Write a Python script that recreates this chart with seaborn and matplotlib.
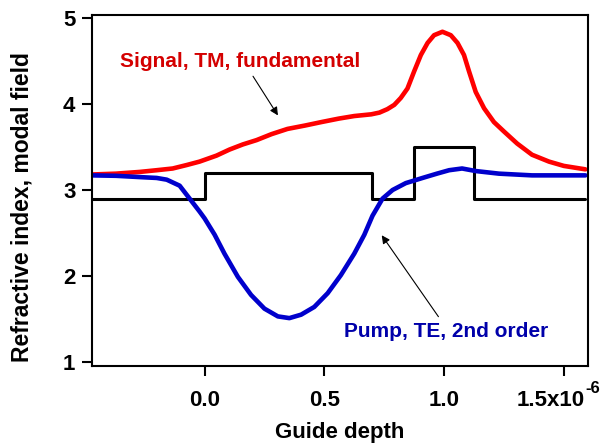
import matplotlib
matplotlib.use("Agg")
import matplotlib.pyplot as plt
import seaborn as sns
import pandas as pd

# depth in micrometres (axis shown as x10^-6 m)
signal_x = [-0.471, -0.37, -0.271, -0.20, -0.133, -0.075, -0.021, 0.05, 0.104, 0.16,
            0.217, 0.28, 0.346, 0.42, 0.488, 0.56, 0.625, 0.696, 0.73, 0.763,
            0.792, 0.819, 0.847, 0.875, 0.903, 0.931, 0.958, 0.993, 1.028, 1.056,
            1.083, 1.104, 1.132, 1.167, 1.208, 1.25, 1.305, 1.367, 1.438, 1.50,
            1.59]
signal_y = [3.18, 3.19, 3.21, 3.23, 3.25, 3.29, 3.33, 3.40, 3.47, 3.53,
            3.58, 3.65, 3.71, 3.75, 3.79, 3.83, 3.86, 3.88, 3.90, 3.94,
            3.99, 4.07, 4.18, 4.38, 4.57, 4.71, 4.80, 4.84, 4.80, 4.71,
            4.57, 4.38, 4.14, 3.95, 3.79, 3.68, 3.54, 3.41, 3.33, 3.28,
            3.24]

pump_x = [-0.471, -0.37, -0.271, -0.20, -0.158, -0.104, -0.0625, -0.021, 0.0, 0.042,
          0.083, 0.139, 0.194, 0.25, 0.306, 0.354, 0.403, 0.458, 0.514, 0.569,
          0.625, 0.667, 0.701, 0.743, 0.785, 0.84, 0.91, 0.97, 1.021, 1.075,
          1.133, 1.229, 1.367, 1.59]
pump_y = [3.17, 3.165, 3.15, 3.14, 3.12, 3.05, 2.90, 2.75, 2.67, 2.48,
          2.26, 1.99, 1.78, 1.62, 1.53, 1.51, 1.55, 1.64, 1.80, 2.01,
          2.26, 2.48, 2.70, 2.90, 3.00, 3.08, 3.14, 3.19, 3.23, 3.25,
          3.22, 3.19, 3.17, 3.17]

# refractive index profile (steps)
index_x = [-0.471, 0.0, 0.70, 0.875, 1.125, 1.59]
index_y = [2.9, 3.2, 2.9, 3.5, 2.9, 2.9]

xtick_pos = [0.0, 0.5, 1.0, 1.5]
xtick_labels = ["0.0", "0.5", "1.0", ""]   # last one drawn by hand with its exponent
last_label = "1.5x10"
last_exp = "-6"
ytick_pos = [1, 2, 3, 4, 5]

sns.set_theme(style="ticks")
plt.rcParams['font.family'] = ['Liberation Sans', 'DejaVu Sans']
plt.rcParams['font.weight'] = 'bold'
plt.rcParams['axes.labelweight'] = 'bold'
plt.rcParams['text.color'] = 'black'
plt.rcParams['axes.labelcolor'] = 'black'
plt.rcParams['xtick.color'] = 'black'
plt.rcParams['ytick.color'] = 'black'

fig = plt.figure(figsize=(6.06, 4.45), dpi=100)
ax = fig.add_axes([0.1518, 0.1775, 0.8182, 0.7888])

df_idx = pd.DataFrame({"x": index_x, "n": index_y})
df_sig = pd.DataFrame({"x": signal_x, "v": signal_y})
df_pmp = pd.DataFrame({"x": pump_x, "v": pump_y})

sns.lineplot(data=df_idx, x="x", y="n", ax=ax, color="black", lw=2.2,
             drawstyle="steps-post", estimator=None)
sns.lineplot(data=df_sig, x="x", y="v", ax=ax, color="#ff0000", lw=3.3,
             estimator=None, solid_joinstyle='round')
sns.lineplot(data=df_pmp, x="x", y="v", ax=ax, color="#0000cc", lw=3.3,
             estimator=None, solid_joinstyle='round')

ax.set_xlim(-0.47, 1.60)
ax.set_ylim(0.953, 5.035)
ax.set_xticks(xtick_pos)
ax.set_xticklabels(xtick_labels)
ax.set_yticks(ytick_pos)
ax.tick_params(axis='both', direction='out', length=7, width=1.5, labelsize=16, colors='black')
ax.tick_params(axis='x', pad=10.5)
ax.tick_params(axis='y', pad=5)
for lab in ax.get_xticklabels() + ax.get_yticklabels():
    lab.set_fontweight('bold')

# "1.5x10" with its superscript exponent, as in the original
ax.annotate(last_label, xy=(xtick_pos[-1], 0), xycoords=('data', 'axes fraction'),
            xytext=(-9.4, -17.5), textcoords='offset points',
            ha='center', va='top', fontsize=16, fontweight='bold', annotation_clip=False)
ax.annotate(last_exp, xy=(xtick_pos[-1], 0), xycoords=('data', 'axes fraction'),
            xytext=(15.5, -10.5), textcoords='offset points',
            ha='left', va='top', fontsize=12, fontweight='bold', annotation_clip=False)

for sp in ax.spines.values():
    sp.set_linewidth(1.5)
    sp.set_color('black')
    sp.set_visible(True)

ax.set_xlabel("Guide depth", fontsize=16, fontweight='bold')
ax.set_ylabel("Refractive index, modal field", fontsize=16.5, fontweight='bold')
ax.xaxis.set_label_coords(0.5, -0.219)
ax.xaxis.label.set_va('bottom')
ax.yaxis.set_label_coords(-0.141, 0.453)
ax.yaxis.label.set_va('center')

# annotations
ax.text(0.148, 4.49, "Signal, TM, fundamental", color="#d40000", fontsize=15,
        fontweight='bold', ha='center', va='center')
ax.annotate("", xy=(0.3125, 3.84), xytext=(0.196, 4.35),
            arrowprops=dict(arrowstyle='-|>', color='black', lw=0.8, mutation_scale=12))
ax.text(1.01, 1.36, "Pump, TE, 2nd order", color="#0000aa", fontsize=15,
        fontweight='bold', ha='center', va='center')
ax.annotate("", xy=(0.733, 2.50), xytext=(0.983, 1.50),
            arrowprops=dict(arrowstyle='-|>', color='black', lw=0.8, mutation_scale=12))

fig.savefig("out.png", dpi=100)
